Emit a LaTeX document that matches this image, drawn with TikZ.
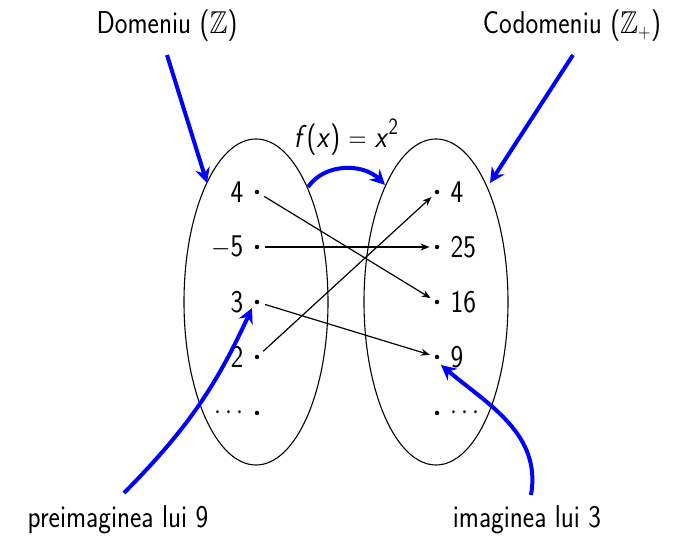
\documentclass[tikz,border=0pt]{standalone}
\usepackage{amssymb}
\usepackage{graphicx}
\usetikzlibrary{shapes.geometric,arrows.meta}
\newcommand{\vs}[1]{\scalebox{1}[1.17]{#1}}
\tikzset{
  txt/.style={font=\fontsize{27}{32}\selectfont\sffamily, inner sep=1pt},
  set/.style={draw=black, line width=1.1pt, ellipse, minimum width=144pt, minimum height=326pt, inner sep=0pt},
  dotnode/.style={circle, fill=black, inner sep=0pt, minimum size=4.5pt},
  lft/.style={label={[txt, label distance=10pt]left:\vs{#1}}},
  rgt/.style={label={[txt, label distance=10pt]right:\vs{#1}}},
  maparrow/.style={line width=1.2pt, -{Stealth[length=9pt,width=7pt]}, shorten <=6pt, shorten >=5pt},
  bluearrow/.style={draw=blue, line width=4pt, -{Stealth[length=15pt,width=15pt,inset=5pt]}},
}
\begin{document}
\begin{tikzpicture}[x=1pt,y=1pt]
\useasboundingbox (0,0) rectangle (683,537);
% sets
\node[set] (A) at (256,235) {};
\node[set] (B) at (436,235) {};
% left dots
\node[dotnode, lft={4}] (l1) at (257,345) {};
\node[dotnode, lft={$-$5}] (l2) at (257,290) {};
\node[dotnode, lft={3}] (l3) at (257,235) {};
\node[dotnode, lft={2}] (l4) at (257,180) {};
\node[dotnode, lft={$\cdots$}] (l5) at (257,124) {};
% right dots
\node[dotnode, rgt={4}] (r1) at (437,345) {};
\node[dotnode, rgt={25}] (r2) at (437,290) {};
\node[dotnode, rgt={16}] (r3) at (437,235) {};
\node[dotnode, rgt={9}] (r4) at (437,180) {};
\node[dotnode, rgt={$\cdots$}] (r5) at (437,124) {};
% mapping
\draw[maparrow] (l1) -- (r3);
\draw[maparrow] (l2) -- (r2);
\draw[maparrow] (l3) -- (r4);
\draw[maparrow] (l4) -- (r1);
% labels
\node[txt] (dom) at (167,511) {\vs{Domeniu ($\mathbb{Z}$)}};
\node[txt] (cod) at (572,511) {\vs{Codomeniu ($\mathbb{Z}_+$)}};
\node[txt] (fx) at (346,400) {\vs{{\itshape f\/}({\itshape x\/}) $=$ {\itshape x\/}\raisebox{0.42em}{\fontsize{20}{20}\selectfont 2}}};
\node[txt] (pre) at (118,17) {\vs{preimaginea lui 9}};
\node[txt] (img) at (527,17) {\vs{imaginea lui 3}};
% blue arrows
\coordinate (d0) at (167,482);
\coordinate (d1) at (207,354);
\coordinate (c0) at (573,482);
\coordinate (c1) at (490,354);
\coordinate (f0) at (308,350);
\coordinate (f1) at (385,352);
\coordinate (p0) at (124,44);
\coordinate (p1) at (252,229);
\coordinate (i0) at (531,42);
\coordinate (i1) at (441,172);
\draw[bluearrow] (d0) -- (d1);
\draw[bluearrow] (c0) -- (c1);
\draw[bluearrow] (f0) to[out=55, in=135] (f1);
\draw[bluearrow] (p0) to[bend right=10] (p1);
\draw[bluearrow] (i0) to[out=80, in=-40] (i1);
\end{tikzpicture}
\end{document}
